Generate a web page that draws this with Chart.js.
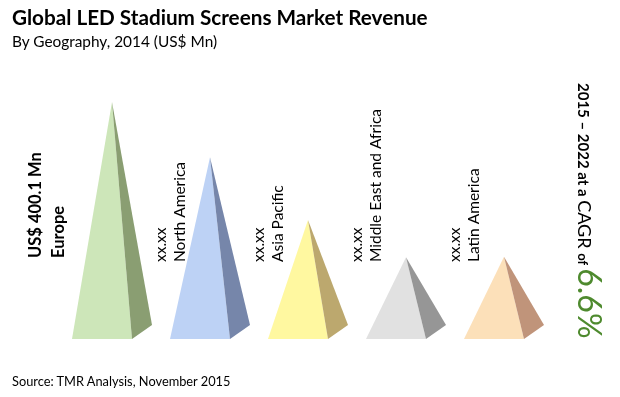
<!DOCTYPE html>
<html><head><meta charset="utf-8">
<script src="https://cdn.jsdelivr.net/npm/chart.js@4/dist/chart.umd.min.js"></script>
<style>
html,body{margin:0;padding:0;background:#fff}
body{width:620px;height:397px;overflow:hidden;position:relative;font-family:Lato,"Open Sans",sans-serif;color:#000}
#c{position:absolute;left:0;top:0}
.t{position:absolute;white-space:nowrap;line-height:1.2}
#title{left:12px;top:5px;font-weight:bold;font-size:20.7px}
#sub{left:12px;top:32px;font-size:15.4px}
#src{left:12px;top:374px;font-size:12.8px}
</style></head>
<body>
<canvas id="c" width="620" height="397"></canvas>
<div class="t" id="title">Global LED Stadium Screens Market Revenue</div>
<div class="t" id="sub">By Geography, 2014 (US$ Mn)</div>
<div class="t" id="src">Source: TMR Analysis, November 2015</div>
<script>
const categories = ['Europe', 'North America', 'Asia Pacific', 'Middle East and Africa', 'Latin America'];
const values = [400.1, 307, 201, 138, 139];
const valueLabels = ['US$ 400.1 Mn', 'xx.xx', 'xx.xx', 'xx.xx', 'xx.xx'];
const frontColors = ['#cde6b9', '#bdd2f5', '#fff8a0', '#e1e1e1', '#fce0b9'];
const sideColors = ['#8a9e72', '#7686aa', '#bca86e', '#969696', '#c0947a'];
const cagrParts = ['2015 \u2013 2022 at a ', 'CAGR ', 'of ', '6.6%'];

const pyramidPlugin = {
  id: 'pyramids',
  afterDatasetsDraw(chart) {
    const ctx = chart.ctx;
    const meta = chart.getDatasetMeta(0);
    meta.data.forEach((bar, i) => {
      const p = bar.getProps(['x', 'y', 'base', 'width'], true);
      const left = p.x - p.width / 2, right = p.x + p.width / 2;
      const fr = left + p.width * 0.75, depth = p.width * 0.175;
      ctx.save();
      ctx.fillStyle = frontColors[i];
      ctx.beginPath(); ctx.moveTo(p.x, p.y); ctx.lineTo(left, p.base); ctx.lineTo(fr, p.base); ctx.closePath(); ctx.fill();
      ctx.fillStyle = sideColors[i];
      ctx.beginPath(); ctx.moveTo(p.x, p.y); ctx.lineTo(fr, p.base); ctx.lineTo(right, p.base - depth); ctx.closePath(); ctx.fill();
      ctx.restore();
    });
  }
};

function vtext(ctx, text, bx, by, font, color) {
  ctx.save();
  ctx.translate(bx, by);
  ctx.rotate(-Math.PI / 2);
  ctx.font = font; ctx.fillStyle = color;
  ctx.textAlign = 'left'; ctx.textBaseline = 'alphabetic';
  ctx.fillText(text, 0, 0);
  ctx.restore();
}

const labelPlugin = {
  id: 'labels',
  afterDraw(chart) {
    const ctx = chart.ctx;
    const xs = chart.scales.x, ys = chart.scales.y;
    const y0 = ys.getPixelForValue(0);
    categories.forEach((c, i) => {
      const px = xs.getPixelForValue(i);
      if (i === 0) {
        vtext(ctx, valueLabels[i], px - 71, y0 - 81, 'bold 16.5px Lato', '#000');
        vtext(ctx, c, px - 48, y0 - 81, 'bold 16.5px Lato', '#000');
      } else {
        vtext(ctx, valueLabels[i], px - 44, y0 - 77, '15.5px Lato', '#000');
        vtext(ctx, c, px - 25, y0 - 77, '15.5px Lato', '#000');
      }
    });
    // CAGR note, rotated clockwise
    const fonts = ['bold 15px Lato', '18px Lato', 'bold 13px Lato', '32px Lato'];
    const colors = ['#000', '#000', '#000', '#4e8a2e'];
    ctx.save();
    ctx.translate(578, 83);
    ctx.rotate(Math.PI / 2);
    ctx.textBaseline = 'alphabetic'; ctx.textAlign = 'left';
    let off = 0;
    cagrParts.forEach((t, k) => {
      ctx.font = fonts[k]; ctx.fillStyle = colors[k];
      ctx.fillText(t, off, 0);
      off += ctx.measureText(t).width;
    });
    ctx.restore();
  }
};

new Chart(document.getElementById('c'), {
  type: 'bar',
  data: {
    labels: categories,
    datasets: [{ data: values, backgroundColor: 'rgba(0,0,0,0)', borderWidth: 0,
      barPercentage: 80 / 98, categoryPercentage: 1 }]
  },
  options: {
    responsive: false, animation: false, devicePixelRatio: 1,
    layout: { padding: { top: 102, bottom: 58, left: 63, right: 67 } },
    plugins: { legend: { display: false }, tooltip: { enabled: false }, title: { display: false } },
    scales: {
      x: { display: false },
      y: { display: false, min: 0, max: 400.1 }
    }
  },
  plugins: [pyramidPlugin, labelPlugin]
});
</script>
</body></html>
